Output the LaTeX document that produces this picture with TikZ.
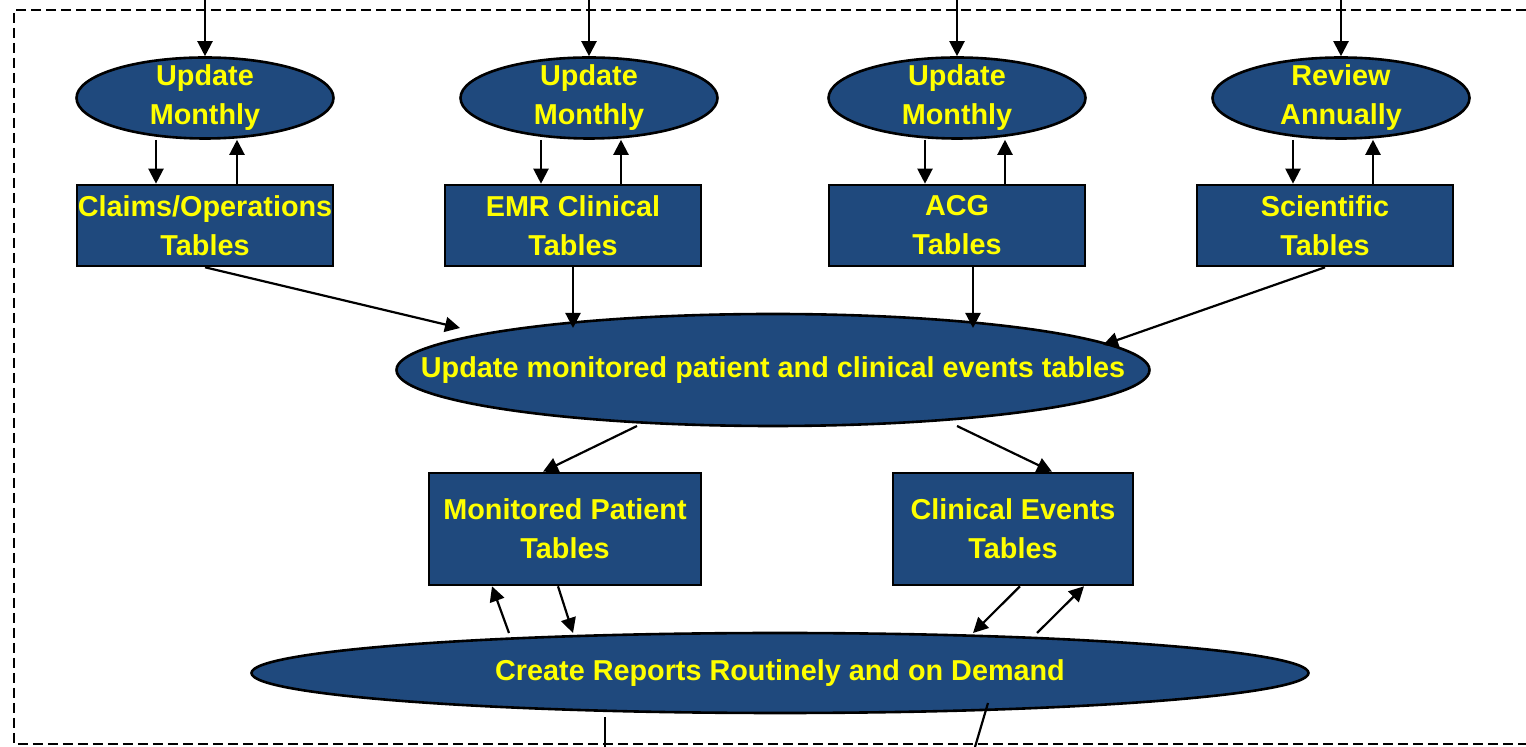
\documentclass[tikz,border=0pt]{standalone}
\usepackage{fontspec}
\setmainfont{Liberation Sans}
\usetikzlibrary{arrows.meta,positioning,calc,shapes.geometric}
\definecolor{boxblue}{RGB}{31,73,125}
\definecolor{labelyellow}{RGB}{255,255,0}

\begin{document}
\begin{tikzpicture}[
  x=0.5pt, y=-0.5pt,
  line/.style={draw, -{Triangle[length=7.5pt,width=7.5pt]}, line width=1.1pt},
  plain/.style={draw, line width=1.1pt},
  oval/.style={ellipse, draw, line width=1.3pt, fill=boxblue, text=labelyellow, align=center,
              inner xsep=0pt, inner ysep=-3pt, font=\bfseries\fontsize{14.4}{19.5}\selectfont},
  tabbox/.style={rectangle, draw, line width=1.3pt, fill=boxblue, text=labelyellow, align=center,
              inner sep=0pt, minimum width=128pt, minimum height=40.5pt, font=\bfseries\fontsize{14.4}{19.5}\selectfont},
  extbox/.style={draw, line width=1.1pt, dash pattern=on 5pt off 2.5pt}
]
\useasboundingbox (0,0) rectangle (1526,747);

% =======================================================
%                     MAIN COMPONENTS
% =======================================================
\node[oval, minimum width=128.5pt, minimum height=40.5pt] (upd1) at (205,98) {Update\\Monthly};
\node[oval, minimum width=128.5pt, minimum height=40.5pt] (upd2) at (589,98) {Update\\Monthly};
\node[oval, minimum width=128.5pt, minimum height=40.5pt] (upd3) at (957,98) {Update\\Monthly};
\node[oval, minimum width=128.5pt, minimum height=40.5pt] (rev4) at (1341,98) {Review\\Annually};

\node[tabbox] (claims) at (205,225.5) {Claims/Operations\\Tables};
\node[tabbox] (emr) at (573,225.5) {EMR Clinical\\Tables};
\node[tabbox] (acg) at (957,225.5) {ACG\\Tables};
\node[tabbox] (sci) at (1325,225.5) {Scientific\\Tables};

\node[oval, inner xsep=-45pt, minimum width=376.5pt, minimum height=56pt] (mid) at (773,370) {Update monitored patient and clinical events tables};

\node[tabbox, minimum width=136pt, minimum height=56pt] (mon) at (565,529) {Monitored Patient\\Tables};
\node[tabbox, minimum width=120pt, minimum height=56pt] (clin) at (1013,529) {Clinical Events\\Tables};

\node[oval, minimum width=528.5pt, minimum height=40pt] (rep) at (780,673) {Create Reports Routinely and on Demand};

% dashed frame (right side runs off the page)
\draw[extbox] (1526,10) -- (14,10) -- (14,744) -- (1526,744);

% =======================================================
%                     CONNECTIONS
% =======================================================

% inputs from above
\coordinate (in1) at (205,0);
\coordinate (in2) at (589,0);
\coordinate (in3) at (957,0);
\coordinate (in4) at (1341,0);
\draw[line] (in1) -- (upd1.north);
\draw[line] (in2) -- (upd2.north);
\draw[line] (in3) -- (upd3.north);
\draw[line] (in4) -- (rev4.north);

% schedule <-> tables
\coordinate (dn1) at ([xshift=-24.5pt]upd1.south);
\coordinate (up1) at ([xshift=16pt]upd1.south);
\draw[line] (dn1) -- (dn1 |- claims.north);
\draw[line] (up1 |- claims.north) -- (up1);

\coordinate (dn2) at ([xshift=-24pt]upd2.south);
\coordinate (up2) at ([xshift=16pt]upd2.south);
\draw[line] (dn2) -- (dn2 |- emr.north);
\draw[line] (up2 |- emr.north) -- (up2);

\coordinate (dn3) at ([xshift=-16pt]upd3.south);
\coordinate (up3) at ([xshift=24pt]upd3.south);
\draw[line] (dn3) -- (dn3 |- acg.north);
\draw[line] (up3 |- acg.north) -- (up3);

\coordinate (dn4) at ([xshift=-24pt]rev4.south);
\coordinate (up4) at ([xshift=16pt]rev4.south);
\draw[line] (dn4) -- (dn4 |- sci.north);
\draw[line] (up4 |- sci.north) -- (up4);

% tables -> monitored/clinical update
\draw[line] (claims.south) -- ($(mid.center)+(-313,-42)$);
\draw[line] (emr.south) -- ($(mid.center)+(-200,-42)$);
\draw[line] ([xshift=8pt]acg.south) -- ($(mid.center)+(200,-42)$);
\draw[line] (sci.south) -- ($(mid.center)+(330,-25)$);

% update -> patient / events tables
\draw[line] ($(mid.center)+(-136,56)$) -- ([xshift=-11pt]mon.north);
\draw[line] ($(mid.center)+(184,56)$) -- ([xshift=19.5pt]clin.north);

% tables <-> reports
\draw[line] ($(rep.center)+(-271,-40)$) -- ([xshift=-36.5pt]mon.south);
\draw[line] ([xshift=-3.5pt]mon.south) -- ($(rep.center)+(-207,-40)$);
\draw[line] ([xshift=3.5pt]clin.south) -- ($(rep.center)+(193,-40)$);
\draw[line] ($(rep.center)+(257,-40)$) -- ([xshift=35.5pt]clin.south);

% outputs leaving below
\coordinate (out1) at (605,747);
\coordinate (out2) at (975,747);
\draw[plain] ($(rep.center)+(-175,44)$) -- (out1);
\draw[plain] ($(rep.center)+(208,30)$) -- (out2);

\end{tikzpicture}
\end{document}
